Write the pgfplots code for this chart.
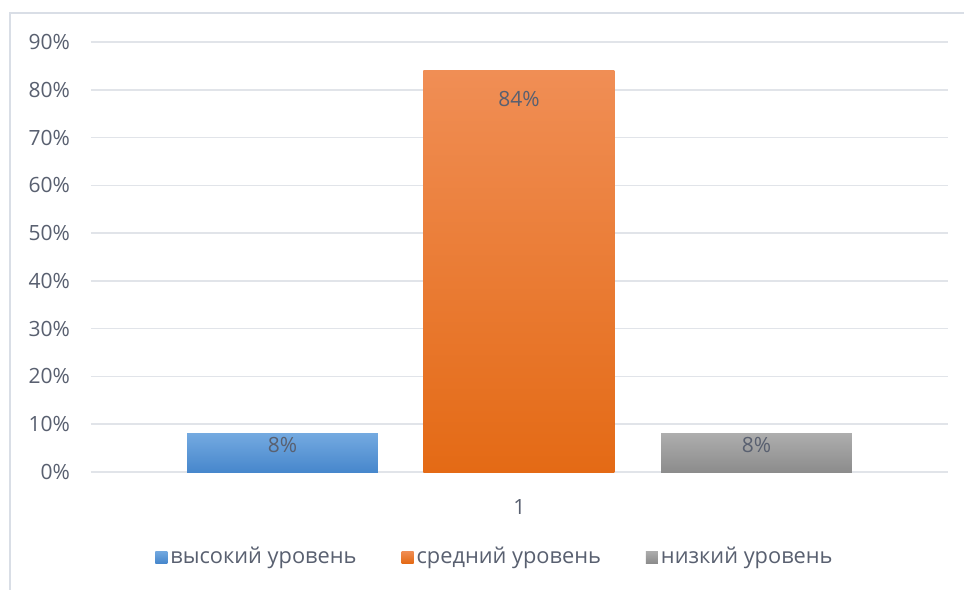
\documentclass[border=0pt]{standalone}
\usepackage{fontspec}
\setmainfont{Open Sans}
\usepackage{pgfplots}
\pgfplotsset{compat=1.18}
\definecolor{txt}{HTML}{596070}
\definecolor{gridc}{HTML}{E1E4E9}
\definecolor{framec}{HTML}{D9DEE6}
\definecolor{blueT}{HTML}{73A9E0}
\definecolor{blueB}{HTML}{4787CC}
\definecolor{orT}{HTML}{F08E55}
\definecolor{orB}{HTML}{E46A15}
\definecolor{grT}{HTML}{ADADAD}
\definecolor{grB}{HTML}{8C8C8C}
\begin{document}
\begin{tikzpicture}
\fill[white] (-45.5pt,-59pt) rectangle (436.5pt,236pt);
\draw[framec, line width=1pt] (436.5pt,229.5pt) -- (-40.5pt,229.5pt) -- (-40.5pt,-59pt);
\begin{axis}[
  at={(0,0)}, anchor=south west,
  scale only axis,
  width=428.5pt, height=215pt,
  xmin=0, xmax=2, ymin=0, ymax=90,
  axis line style={draw=none},
  major tick length=0pt,
  ymajorgrids,
  grid style={gridc, line width=0.75pt},
  xtick={1}, xticklabels={1},
  ytick={0,10,...,90},
  yticklabels={0\%,10\%,20\%,30\%,40\%,50\%,60\%,70\%,80\%,90\%},
  font=\fontsize{10.5pt}{12pt}\selectfont,
  tick label style={txt},
  yticklabel style={xshift=-7pt},
  xticklabel style={yshift=-10pt},
  /pgf/number format/assume math mode=true,
  nodes near coords={\pgfmathprintnumber{\pgfplotspointmeta}\%},
  every node near coord/.append style={txt, anchor=center, font=\fontsize{10.5pt}{12pt}\selectfont},
  legend columns=3,
  legend style={at={(rel axis cs:0.5,0)}, anchor=center, yshift=-42.5pt, xshift=-12pt,
    draw=none, fill=none, text=txt, font=\fontsize{10.9pt}{12pt}\selectfont,
    nodes={inner xsep=1.5pt},
    /tikz/every even column/.append style={column sep=21pt},
    /tikz/every odd column/.append style={column sep=0pt}},
  legend image code/.code={\path[#1] (0pt,-3pt) rectangle (6pt,3pt);},
]
\addplot[ybar, bar width=0.4457, bar shift=0pt, draw=none, top color=blueT, bottom color=blueB,
  every node near coord/.append style={yshift=-5.75pt}] coordinates {(0.4469,8)};
\addlegendentry{высокий уровень}
\addplot[ybar, bar width=0.4457, bar shift=0pt, draw=none, top color=orT, bottom color=orB,
  every node near coord/.append style={yshift=-14pt}] coordinates {(0.9988,84)};
\addlegendentry{средний уровень}
\addplot[ybar, bar width=0.4457, bar shift=0pt, draw=none, top color=grT, bottom color=grB,
  every node near coord/.append style={yshift=-5.75pt}] coordinates {(1.5531,8)};
\addlegendentry{низкий уровень}
\end{axis}
\pgfresetboundingbox
\useasboundingbox (-45.5pt,-59pt) rectangle (436.5pt,236pt);
\end{tikzpicture}
\end{document}
